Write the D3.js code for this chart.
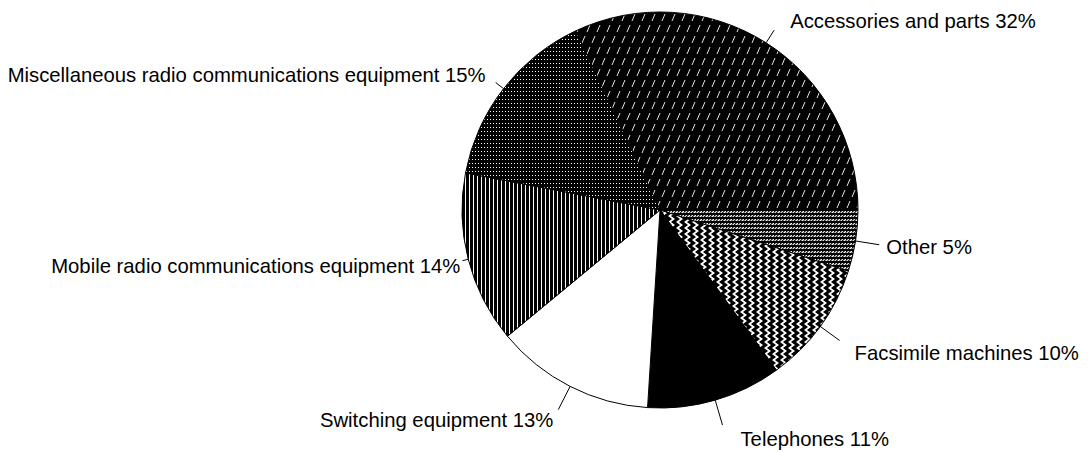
<!DOCTYPE html>
<html>
<head>
<meta charset="utf-8">
<script src="https://cdn.jsdelivr.net/npm/d3@7"></script>
<style>
  html, body { margin: 0; padding: 0; background: #fff; }
  svg { display: block; }
  text { font-family: "Liberation Sans", Arial, sans-serif; font-size: 20.3px; fill: #000; }
</style>
</head>
<body>
<svg id="chart" width="1090" height="453"></svg>
<script>
// ---- data ----
const categories = [
  "Accessories and parts",
  "Other",
  "Facsimile machines",
  "Telephones",
  "Switching equipment",
  "Mobile radio communications equipment",
  "Miscellaneous radio communications equipment"
];
const shares = [32, 5, 10, 11, 13, 14, 15];
const fills = ["url(#pAcc)", "url(#pOther)", "url(#pFax)", "#000", "#fff", "url(#pMobile)", "url(#pMisc)"];

// ---- layout (label placement relative to leader end) ----
const leaderLen = [15, 24, 24, 26, 26, 6, 10];
const labelDx   = [16, 7, 15, 18, -5, -2, -10];
const labelDy   = [-2, 9, 20, 21, 17, 12, -1];
const labelAnchor = ["start", "start", "start", "start", "end", "end", "end"];

const W = 1090, H = 453;
const cx = 660, cy = 210, R = 198;

const svg = d3.select("#chart");
const defs = svg.append("defs");

// Accessories: black with short white slanted dashes (staggered)
const pAcc = defs.append("pattern").attr("id", "pAcc").attr("patternUnits", "userSpaceOnUse")
  .attr("width", 10).attr("height", 22);
pAcc.append("rect").attr("width", 10).attr("height", 22).attr("fill", "#000");
pAcc.append("line").attr("x1", 2).attr("y1", 9).attr("x2", 5).attr("y2", 2)
  .attr("stroke", "#fff").attr("stroke-width", 0.9);
pAcc.append("line").attr("x1", 7).attr("y1", 20).attr("x2", 10).attr("y2", 13)
  .attr("stroke", "#fff").attr("stroke-width", 0.9);
pAcc.append("line").attr("x1", -3).attr("y1", 20).attr("x2", 0).attr("y2", 13)
  .attr("stroke", "#fff").attr("stroke-width", 0.9);

// Other: fine zigzag rows
const pOther = defs.append("pattern").attr("id", "pOther").attr("patternUnits", "userSpaceOnUse")
  .attr("width", 6).attr("height", 4);
pOther.append("rect").attr("width", 6).attr("height", 4).attr("fill", "#000");
pOther.append("path").attr("d", "M0,3 L2,1 L3.5,1 L1.5,3 Z M3,3 L5,1 L6,1 L6,2 L5,3 Z")
  .attr("fill", "#fff");

// Facsimile: chevron zigzag
const pFax = defs.append("pattern").attr("id", "pFax").attr("patternUnits", "userSpaceOnUse")
  .attr("width", 8).attr("height", 6);
pFax.append("rect").attr("width", 8).attr("height", 6).attr("fill", "#000");
pFax.append("path").attr("d", "M0,0 L3,0 L7,3 L3,6 L0,6 L4,3 Z").attr("fill", "#fff");

// Mobile: thin vertical white lines
const pMobile = defs.append("pattern").attr("id", "pMobile").attr("patternUnits", "userSpaceOnUse")
  .attr("width", 4).attr("height", 4);
pMobile.append("rect").attr("width", 4).attr("height", 4).attr("fill", "#000");
pMobile.append("rect").attr("x", 1).attr("width", 1).attr("height", 4).attr("fill", "#fff");

// Misc: white dots on black
const pMisc = defs.append("pattern").attr("id", "pMisc").attr("patternUnits", "userSpaceOnUse")
  .attr("width", 3).attr("height", 4);
pMisc.append("rect").attr("width", 3).attr("height", 4).attr("fill", "#000");
pMisc.append("rect").attr("x", 1).attr("y", 1).attr("width", 1).attr("height", 1).attr("fill", "#fff");

const total = d3.sum(shares);
const start = Math.PI / 2 - (shares[0] / total) * 2 * Math.PI;
const pie = d3.pie().sort(null).value(d => d).startAngle(start).endAngle(start + 2 * Math.PI);
const arcs = pie(shares);
const arc = d3.arc().innerRadius(0).outerRadius(R);

const g = svg.append("g").attr("transform", `translate(${cx},${cy})`);
g.selectAll("path.slice").data(arcs).join("path")
  .attr("class", "slice")
  .attr("d", arc)
  .attr("fill", (d, i) => fills[i])
  .attr("stroke", "#000")
  .attr("stroke-width", 1);

// leaders and labels
arcs.forEach((d, i) => {
  const a = (d.startAngle + d.endAngle) / 2;
  const sx = Math.sin(a), sy = -Math.cos(a);
  const x1 = R * sx, y1 = R * sy;
  const x2 = (R + leaderLen[i]) * sx, y2 = (R + leaderLen[i]) * sy;
  g.append("line").attr("x1", x1).attr("y1", y1).attr("x2", x2).attr("y2", y2)
    .attr("stroke", "#000").attr("stroke-width", 1);
  g.append("text")
    .attr("x", x2 + labelDx[i]).attr("y", y2 + labelDy[i])
    .attr("text-anchor", labelAnchor[i])
    .text(`${categories[i]} ${shares[i]}%`);
});
</script>
</body>
</html>
